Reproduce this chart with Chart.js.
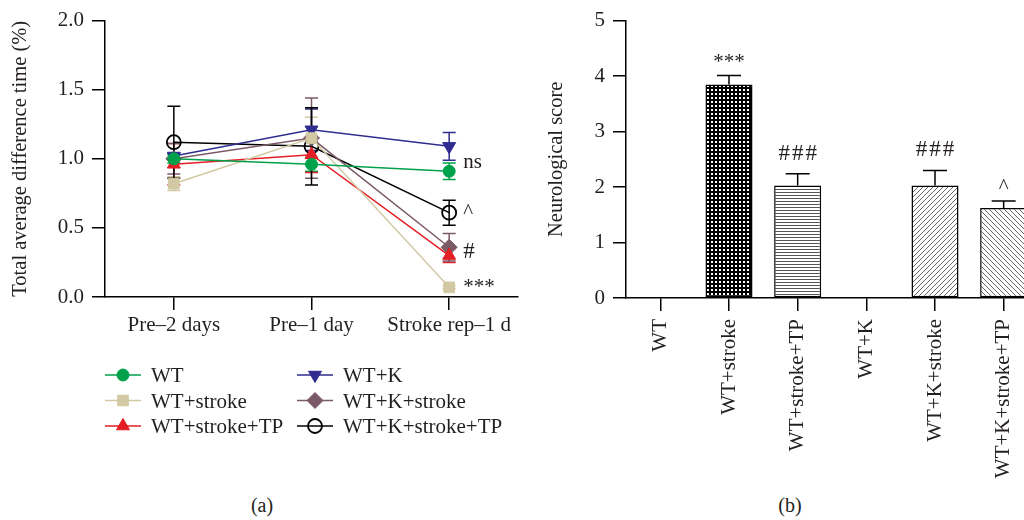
<!DOCTYPE html>
<html>
<head>
<meta charset="utf-8">
<script src="https://cdn.jsdelivr.net/npm/chart.js@4.4.1/dist/chart.umd.min.js"></script>
<style>
  html, body { margin: 0; padding: 0; background: #fff; overflow: hidden; width: 1024px; height: 520px; position: relative; }
  #chA { position: absolute; left: 0; top: 0; }
  #chB { position: absolute; left: 530px; top: 0; }
  .cap { position: absolute; top: 494px; width: 60px; text-align: center; font: 20px "Liberation Serif", serif; color: #231f20; }
</style>
</head>
<body>
<canvas id="chA" width="530" height="480"></canvas>
<canvas id="chB" width="512" height="480"></canvas>
<div class="cap" style="left:232px">(a)</div>
<div class="cap" style="left:760px">(b)</div>
<script>
// panel (a) data
var timeLabels = ["Pre\u20132 days", "Pre\u20131 day", "Stroke rep\u20131 d"];
var groupNames = ["WT", "WT+stroke", "WT+stroke+TP", "WT+K", "WT+K+stroke", "WT+K+stroke+TP"];
var wtMean = [1.00, 0.96, 0.91];
var wtErr = [0.03, 0.05, 0.06];
var strokeMean = [0.82, 1.15, 0.07];
var strokeErr = [0.05, 0.15, 0.01];
var strokeTpMean = [0.96, 1.03, 0.30];
var strokeTpErr = [0.15, 0.13, 0.05];
var kMean = [1.02, 1.21, 1.09];
var kErr = [0.02, 0.15, 0.10];
var kStrokeMean = [1.00, 1.15, 0.36];
var kStrokeErr = [0.11, 0.29, 0.10];
var kStrokeTpMean = [1.12, 1.09, 0.61];
var kStrokeTpErr = [0.26, 0.28, 0.09];
var endMarks = ["ns", "***", "", "", "#", "^"];

// panel (b) data
var scoreMean = [0, 3.85, 2.03, 0, 2.03, 1.62];
var scoreErr = [0, 0.16, 0.21, 0, 0.27, 0.13];
var scoreMarks = ["", "***", "###", "", "###", "^"];

var txt = "#231f20";
var serif = "Liberation Serif";
Chart.defaults.font.family = serif;
Chart.defaults.color = txt;

// marker shapes for the hand drawn legend
function drawMarker(ctx, ds, x, y) {
  var r = ds.pointRadius;
  ctx.save();
  ctx.translate(x, y);
  ctx.rotate((ds.pointRotation || 0) * Math.PI / 180);
  ctx.fillStyle = ds.pointBackgroundColor;
  ctx.strokeStyle = ds.pointBorderColor;
  ctx.lineWidth = ds.pointBorderWidth;
  ctx.beginPath();
  if (ds.pointStyle === "circle") {
    ctx.arc(0, 0, r, 0, Math.PI * 2);
  } else if (ds.pointStyle === "rect") {
    var s = r * Math.SQRT1_2;
    ctx.rect(-s, -s, 2 * s, 2 * s);
  } else if (ds.pointStyle === "triangle") {
    for (var k = 0; k < 3; k++) {
      var a = -Math.PI / 2 + k * 2 * Math.PI / 3;
      if (k === 0) ctx.moveTo(Math.cos(a) * r, Math.sin(a) * r);
      else ctx.lineTo(Math.cos(a) * r, Math.sin(a) * r);
    }
    ctx.closePath();
  } else if (ds.pointStyle === "rectRot") {
    ctx.moveTo(0, -r); ctx.lineTo(r, 0); ctx.lineTo(0, r); ctx.lineTo(-r, 0); ctx.closePath();
  }
  ctx.fill();
  ctx.stroke();
  ctx.restore();
}

var errBarsA = {
  id: "errBarsA",
  beforeDatasetsDraw: function(chart) {
    var ctx = chart.ctx, ys = chart.scales.y;
    chart.data.datasets.forEach(function(ds, i) {
      var meta = chart.getDatasetMeta(i);
      ctx.save();
      ctx.strokeStyle = ds.borderColor;
      ctx.lineWidth = 1.5;
      meta.data.forEach(function(pt, j) {
        var e = ds.errors[j];
        var y1 = ys.getPixelForValue(ds.data[j] + e);
        var y2 = ys.getPixelForValue(ds.data[j] - e);
        ctx.beginPath();
        ctx.moveTo(pt.x, y1); ctx.lineTo(pt.x, y2);
        ctx.moveTo(pt.x - 6.5, y1); ctx.lineTo(pt.x + 6.5, y1);
        ctx.moveTo(pt.x - 6.5, y2); ctx.lineTo(pt.x + 6.5, y2);
        ctx.stroke();
      });
      ctx.restore();
    });
  }
};

var marksA = {
  id: "marksA",
  afterDatasetsDraw: function(chart) {
    var ctx = chart.ctx;
    var dys = { "ns": -3, "***": 6, "#": 11, "^": 5 };
    ctx.save();
    ctx.fillStyle = txt;
    ctx.textAlign = "left";
    ctx.textBaseline = "alphabetic";
    chart.data.datasets.forEach(function(ds, i) {
      if (!endMarks[i]) return;
      var meta = chart.getDatasetMeta(i);
      var pt = meta.data[meta.data.length - 1];
      ctx.font = (endMarks[i] === "#" ? "23px " : "21px ") + serif;
      ctx.fillText(endMarks[i], pt.x + 14, pt.y + dys[endMarks[i]]);
    });
    ctx.restore();
  }
};

var legendA = {
  id: "legendA",
  afterDraw: function(chart) {
    var ctx = chart.ctx;
    chart.data.datasets.forEach(function(ds, i) {
      var x0 = i < 3 ? 105 : 297;
      var y = 375 + (i % 3) * 25.5;
      ctx.save();
      ctx.strokeStyle = ds.borderColor;
      ctx.lineWidth = 1.5;
      ctx.beginPath();
      ctx.moveTo(x0, y); ctx.lineTo(x0 + 36, y);
      ctx.stroke();
      drawMarker(ctx, ds, x0 + 18, y);
      ctx.font = "21px " + serif;
      ctx.fillStyle = txt;
      ctx.textBaseline = "alphabetic";
      ctx.fillText(ds.label, x0 + 46, y + 7);
      ctx.restore();
    });
  }
};

function lineSet(i, mean, err, color, style, r, rot, fill) {
  return {
    label: groupNames[i],
    data: mean,
    errors: err,
    borderColor: color,
    backgroundColor: color,
    borderWidth: 1.5,
    pointStyle: style,
    pointRadius: r,
    pointRotation: rot,
    pointBackgroundColor: fill || color,
    pointBorderColor: color,
    pointBorderWidth: fill ? 1.8 : 1,
    tension: 0
  };
}

new Chart(document.getElementById("chA"), {
  type: "line",
  data: {
    labels: timeLabels,
    datasets: [
      lineSet(0, wtMean, wtErr, "#00a14b", "circle", 6, 0),
      lineSet(1, strokeMean, strokeErr, "#d2c9a4", "rect", 7.5, 0),
      lineSet(2, strokeTpMean, strokeTpErr, "#e31e24", "triangle", 7.5, 0),
      lineSet(3, kMean, kErr, "#302d8f", "triangle", 7.5, 180),
      lineSet(4, kStrokeMean, kStrokeErr, "#7b5a68", "rectRot", 8, 0),
      lineSet(5, kStrokeTpMean, kStrokeTpErr, "#000000", "circle", 7, 0, "rgba(255,255,255,0)")
    ]
  },
  options: {
    responsive: false,
    animation: false,
    devicePixelRatio: 1,
    layout: { padding: { top: 20, right: 12, left: 0, bottom: 0 } },
    plugins: { legend: { display: false }, tooltip: { enabled: false } },
    scales: {
      x: {
        offset: true,
        grid: { drawOnChartArea: false, color: "#000", lineWidth: 1.5, tickLength: 13 },
        border: { color: "#000", width: 1.5 },
        ticks: { font: { size: 21 }, color: txt, padding: 3, maxRotation: 0 },
        afterFit: function(s) { s.height = 183; }
      },
      y: {
        min: 0,
        max: 2,
        grid: { drawOnChartArea: false, color: "#000", lineWidth: 1.5, tickLength: 13 },
        border: { color: "#000", width: 1.5 },
        ticks: { stepSize: 0.5, font: { size: 21 }, color: txt, padding: 8,
          callback: function(v) { return v.toFixed(1); } },
        title: { display: true, text: "Total average difference time (%)", font: { size: 20.5 }, color: txt, padding: { top: 8 } },
        afterFit: function(s) { s.width = 105; }
      }
    }
  },
  plugins: [errBarsA, marksA, legendA]
});

// bar fills
function makePattern(kind) {
  var c = document.createElement("canvas");
  var g = c.getContext("2d");
  if (kind === "white") {
    return "#ffffff";
  } else if (kind === "grid") {
    c.width = 4; c.height = 4;
    g.fillStyle = "#000"; g.fillRect(0, 0, 4, 4);
    g.fillStyle = "#fff"; g.fillRect(1, 1, 2, 2);
  } else if (kind === "hline") {
    c.width = 4; c.height = 3;
    g.fillStyle = "#fff"; g.fillRect(0, 0, 4, 3);
    g.fillStyle = "#555"; g.fillRect(0, 0, 4, 1);
  } else {
    c.width = 5; c.height = 5;
    g.fillStyle = "#fff"; g.fillRect(0, 0, 5, 5);
    g.fillStyle = "#666";
    for (var x = 0; x < 5; x++) {
      for (var y = 0; y < 5; y++) {
        var on = kind === "up" ? (x + y) % 5 === 4 : (x - y + 5) % 5 === 0;
        if (on) g.fillRect(x, y, 1, 1);
      }
    }
  }
  return g.createPattern(c, "repeat");
}
var barFills = ["white", "grid", "hline", "white", "up", "down"].map(makePattern);

var errBarsB = {
  id: "errBarsB",
  afterDatasetsDraw: function(chart) {
    var ctx = chart.ctx, ys = chart.scales.y;
    var meta = chart.getDatasetMeta(0);
    ctx.save();
    meta.data.forEach(function(bar, j) {
      if (!scoreErr[j]) return;
      var yb = ys.getPixelForValue(scoreMean[j]);
      var yt = ys.getPixelForValue(scoreMean[j] + scoreErr[j]);
      ctx.strokeStyle = "#000";
      ctx.lineWidth = 1.5;
      ctx.beginPath();
      ctx.moveTo(bar.x, yb); ctx.lineTo(bar.x, yt);
      ctx.moveTo(bar.x - 12, yt); ctx.lineTo(bar.x + 12, yt);
      ctx.stroke();
      if (scoreMarks[j]) {
        var hash = scoreMarks[j].indexOf("#") >= 0;
        ctx.font = (hash ? "23px " : "21px ") + serif;
        ctx.letterSpacing = hash ? "2px" : "0px";
        ctx.fillStyle = txt;
        ctx.textAlign = "center";
        ctx.textBaseline = "alphabetic";
        ctx.fillText(scoreMarks[j], bar.x + (hash ? 1 : 0), yt + (hash ? -14 : -8));
      }
    });
    ctx.restore();
  }
};

new Chart(document.getElementById("chB"), {
  type: "bar",
  data: {
    labels: groupNames,
    datasets: [{
      data: scoreMean,
      backgroundColor: barFills,
      borderColor: "#000",
      borderWidth: 1.5,
      borderSkipped: false,
      categoryPercentage: 1,
      barPercentage: 0.685
    }]
  },
  options: {
    responsive: false,
    animation: false,
    devicePixelRatio: 1,
    layout: { padding: { top: 20, right: 4, left: 0, bottom: 0 } },
    plugins: { legend: { display: false }, tooltip: { enabled: false } },
    scales: {
      x: {
        grid: { offset: false, drawOnChartArea: false, color: "#000", lineWidth: 1.5, tickLength: 13 },
        border: { color: "#000", width: 1.5 },
        ticks: { font: { size: 21 }, color: txt, padding: 8, minRotation: 90, maxRotation: 90, autoSkip: false },
        afterFit: function(s) { s.height = 182; }
      },
      y: {
        min: 0,
        max: 5,
        grid: { drawOnChartArea: false, color: "#000", lineWidth: 1.5, tickLength: 13 },
        border: { color: "#000", width: 1.5 },
        ticks: { stepSize: 1, font: { size: 21 }, color: txt, padding: 8 },
        title: { display: true, text: "Neurological score", font: { size: 20.5 }, color: txt, padding: { top: 14 } },
        afterFit: function(s) { s.width = 96; }
      }
    }
  },
  plugins: [errBarsB]
});
</script>
</body>
</html>
